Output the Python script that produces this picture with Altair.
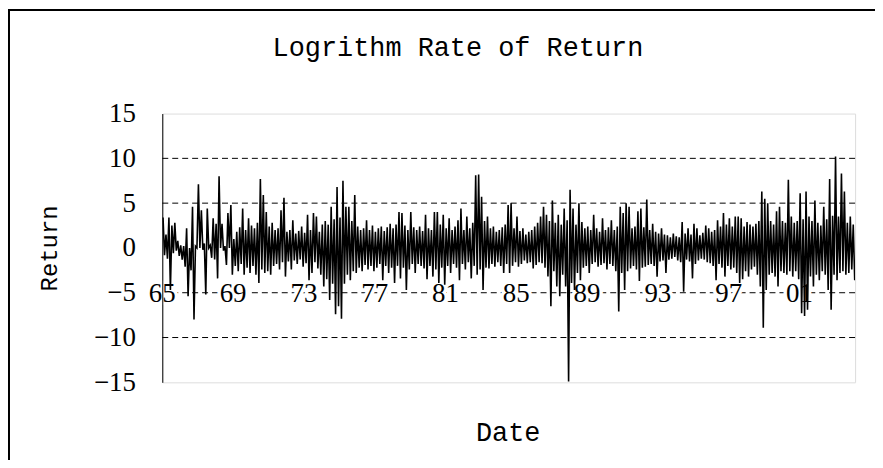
import altair as alt
import pandas as pd

# envelope of the return series, read every ~2 months (6 bins per year) from 1965
hi = [
3.4,1.5,3.4,2.5,2.8,
0.8,0.3,0.2,2.2,0.0,
4.6,0.2,7.1,4.2,0.5,
4.4,0.3,3.3,2.7,8.0,
2.7,0.2,3.9,4.8,1.0,
1.8,2.3,4.4,2.0,3.3,
2.5,2.2,2.8,7.7,5.9,
4.0,2.4,2.8,2.0,2.2,
4.2,5.6,1.8,2.0,3.1,
1.6,1.9,2.4,1.7,3.7,
2.0,3.9,3.5,1.8,2.6,
3.0,2.6,4.6,3.2,6.8,
3.4,7.5,4.6,4.6,3.0,
5.9,2.4,2.0,2.2,3.1,
2.0,2.5,1.8,2.2,2.4,
1.9,2.3,2.7,2.2,2.6,
4.0,3.9,2.5,2.0,4.0,
2.3,2.0,2.4,1.9,3.7,
2.2,2.0,4.0,4.0,2.6,
3.7,2.2,3.3,2.0,2.4,
3.1,4.4,2.0,3.5,2.2,
2.8,8.1,8.2,5.7,3.0,
3.5,2.2,2.4,1.8,2.0,
2.3,2.6,4.8,5.0,2.2,
3.5,1.9,2.2,1.5,1.8,
2.0,2.4,2.8,3.5,4.6,
3.7,3.0,5.3,2.8,3.7,
2.6,4.4,3.1,6.5,4.4,
2.6,5.0,2.9,2.2,2.4,
2.0,3.7,2.2,1.8,3.3,
2.0,2.3,3.1,2.0,2.4,
4.6,3.9,5.0,4.6,2.2,
2.4,4.1,4.4,2.3,5.4,
2.0,2.7,1.8,1.6,2.2,
1.5,1.4,1.2,1.6,1.3,
1.2,2.9,1.6,2.2,1.5,
2.7,2.2,1.4,1.7,2.5,
2.2,1.8,2.0,3.1,2.4,
3.9,2.6,3.3,2.4,3.5,
3.5,3.3,2.4,2.9,2.6,
2.4,2.7,3.0,6.3,5.5,
5.0,3.0,2.6,4.1,4.6,
3.0,2.8,7.6,3.5,2.8,
3.0,6.1,3.2,6.3,3.5,
3.0,5.3,2.8,2.5,4.6,
3.2,7.7,3.6,10.2,3.5,
8.3,6.3,2.8,3.5,2.6,
]

lo = [
-0.8,-1.2,-4.7,-0.6,-0.3,
-0.9,-1.3,-2.1,-5.4,-2.5,
-8.0,0.0,0.0,-0.2,-5.2,
0.0,-1.1,-1.3,-3.4,0.0,
-0.3,-1.9,0.0,-3.0,-2.0,
-2.6,-1.8,-3.0,-2.2,-2.8,
-2.0,-3.0,-3.9,-2.4,-2.8,
-2.6,-3.0,-2.0,-1.8,-2.4,
-1.6,-3.2,-1.5,-2.4,-1.4,
-1.8,-1.3,-2.1,-1.7,-3.6,
-2.8,-1.6,-2.3,-3.0,-4.3,
-3.5,-5.8,-4.0,-7.4,-6.5,
-7.9,-4.0,-3.0,-3.6,-2.6,
-2.8,-2.2,-2.6,-1.9,-2.4,
-2.0,-2.6,-2.2,-1.8,-3.6,
-2.0,-2.8,-2.2,-3.9,-2.0,
-3.4,-2.2,-4.7,-2.4,-1.8,
-2.8,-1.8,-2.0,-2.3,-3.5,
-2.0,-3.2,-2.4,-3.9,-2.2,
-4.1,-2.0,-2.8,-1.8,-2.2,
-3.6,-1.8,-2.4,-1.6,-3.4,
-2.0,-3.0,-2.4,-4.7,-2.2,
-2.3,-1.8,-2.1,-1.6,-2.0,
-2.8,-1.8,-2.8,-2.0,-1.6,
-2.1,-1.8,-1.4,-1.7,-1.6,
-2.3,-1.9,-1.6,-1.7,-2.2,
-3.2,-6.5,-2.6,-4.3,-5.4,
-3.0,-4.3,-14.9,-3.9,-4.7,
-2.8,-3.6,-2.2,-2.0,-2.8,
-1.8,-1.6,-2.1,-1.9,-1.7,
-2.4,-1.8,-2.0,-2.6,-7.1,
-2.8,-4.7,-2.6,-2.3,-2.0,
-2.4,-3.7,-2.2,-2.1,-1.9,
-1.8,-2.0,-3.2,-1.5,-1.4,
-2.8,-1.3,-1.2,-1.0,-1.4,
-1.6,-4.9,-1.3,-1.5,-3.4,
-1.8,-1.4,-1.2,-1.3,-1.6,
-1.7,-2.0,-3.6,-1.8,-2.2,
-3.2,-2.0,-2.4,-2.2,-2.8,
-3.9,-3.5,-2.6,-3.2,-2.4,
-2.1,-3.0,-4.3,-8.9,-4.7,
-3.0,-2.8,-3.2,-4.3,-2.6,
-2.8,-3.0,-2.6,-3.2,-2.6,
-3.5,-7.3,-7.6,-6.9,-3.2,
-4.3,-3.0,-3.6,-2.6,-3.0,
-4.7,-6.9,-3.0,-3.6,-2.8,
-2.6,-3.0,-2.8,-2.4,-3.6,
]

start_year = 1965
bins_per_year = 6
tick_years = [1965, 1969, 1973, 1977, 1981, 1985, 1989, 1993, 1997, 2001]
tick_labels = ["65", "69", "73", "77", "81", "85", "89", "93", "97", "01"]
y_ticks = [-15, -10, -5, 0, 5, 10, 15]
grid_vals = [10, 5, -5, -10]
label_row = -5

rows = []
for i, (h, l) in enumerate(zip(hi, lo)):
    rows.append({"t": start_year + (i + 0.25) / bins_per_year, "v": h, "o": 2 * i})
    rows.append({"t": start_year + (i + 0.75) / bins_per_year, "v": l, "o": 2 * i + 1})
df = pd.DataFrame(rows)

lab_df = pd.DataFrame({"t": tick_years, "lab": tick_labels, "v": [label_row] * len(tick_years)})
grid_df = pd.DataFrame({"v": grid_vals})

W, H = 696, 270
xscale = alt.Scale(domain=[1965, 2004.146], nice=False, zero=False)
yscale = alt.Scale(domain=[-15, 15], nice=False)

xaxis = alt.Axis(labels=False, ticks=False, domain=False, grid=False, title="Date",
                 titleFont="Liberation Mono", titleFontSize=27, titleFontWeight="normal",
                 titleColor="black", titleX=347, titleY=50, titleBaseline="middle",
                 titleAlign="center")
yaxis = alt.Axis(values=y_ticks, ticks=False, grid=False, domainColor="black", domainWidth=1,
                 labelFont="Liberation Serif", labelFontSize=27, labelColor="black",
                 labelPadding=27, title="Return", titleFont="Liberation Mono",
                 titleFontSize=24, titleFontWeight="normal", titleColor="black",
                 titleAngle=270, titleX=-113, titleY=135, titleAlign="center",
                 titleBaseline="middle", zindex=1)

X = alt.X("t:Q", scale=xscale, axis=xaxis)
Y = alt.Y("v:Q", scale=yscale, axis=yaxis)

border = alt.Chart(alt.Data(values=[{}])).mark_rect(
    fill=None, stroke="black", strokeWidth=2
).encode(x=alt.value(-154), x2=alt.value(W + 300), y=alt.value(-104), y2=alt.value(H + 300))

grid = alt.Chart(grid_df).mark_rule(color="black", strokeWidth=1, strokeDash=[6, 4]).encode(y=Y)

halo = alt.Chart(lab_df).mark_text(
    font="Liberation Serif", fontSize=27, color="white", stroke="white", strokeWidth=7,
    baseline="middle", align="center", dy=1
).encode(x=X, y=Y, text="lab:N")

labels = alt.Chart(lab_df).mark_text(
    font="Liberation Serif", fontSize=27, color="black", baseline="middle", align="center", dy=1
).encode(x=X, y=Y, text="lab:N")

line = alt.Chart(df).mark_line(color="black", strokeWidth=1.6, clip=True).encode(
    x=X, y=Y, order="o:Q"
)

chart = alt.layer(border, grid, halo, labels, line).properties(
    width=W, height=H,
    title=alt.TitleParams("Logrithm Rate of Return", font="Liberation Mono", fontSize=27,
                          fontWeight="normal", color="black", anchor="middle", frame="group",
                          dx=-51, offset=0, baseline="middle", dy=66),
    autosize=alt.AutoSizeParams(type="none"),
    padding={"left": 155, "top": 105, "right": 20, "bottom": 77},
).configure_view(stroke="#999", strokeDash=[1, 1], strokeWidth=1).configure(background="white")

chart.save("out.html", embed_options={"renderer": "svg", "actions": False})
